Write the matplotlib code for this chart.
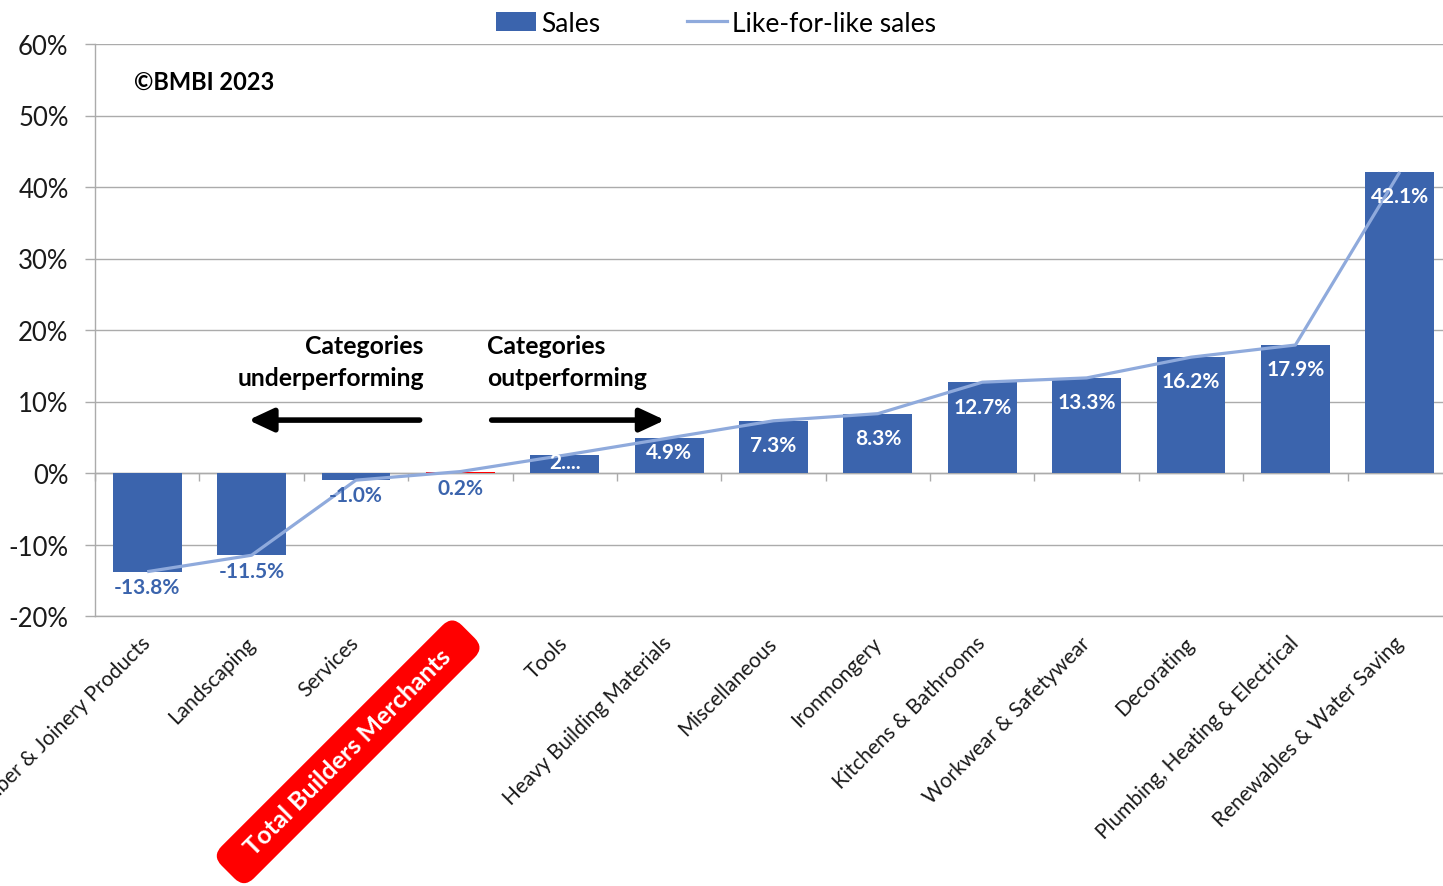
import matplotlib
matplotlib.use("Agg")
import matplotlib.pyplot as plt
import numpy as np
from matplotlib.patches import Patch
from matplotlib.lines import Line2D

# ---------------- data ----------------
categories = ["Timber & Joinery Products", "Landscaping", "Services",
              "Total Builders Merchants", "Tools", "Heavy Building Materials",
              "Miscellaneous", "Ironmongery", "Kitchens & Bathrooms",
              "Workwear & Safetywear", "Decorating",
              "Plumbing, Heating & Electrical", "Renewables & Water Saving"]
sales = [-13.8, -11.5, -1.0, 0.2, 2.5, 4.9, 7.3, 8.3, 12.7, 13.3, 16.2, 17.9, 42.1]
lfl_sales = [-13.8, -11.5, -1.0, 0.2, 2.5, 4.9, 7.3, 8.3, 12.7, 13.3, 16.2, 17.9, 42.1]
sales_labels = ["-13.8%", "-11.5%", "-1.0%", "0.2%", "2....", "4.9%", "7.3%",
                "8.3%", "12.7%", "13.3%", "16.2%", "17.9%", "42.1%"]
y_ticks = [-20, -10, 0, 10, 20, 30, 40, 50, 60]
highlight = "Total Builders Merchants"
series_names = ["Sales", "Like-for-like sales"]

# ---------------- style ----------------
plt.rcParams["font.family"] = ["Lato", "DejaVu Sans"]
bar_color = "#3B64AD"
line_color = "#8FAADC"
hl_color = "#FF0000"
grid_color = "#ABABAB"

W, H = 1443, 887
fig = plt.figure(figsize=(W / 100, H / 100), dpi=100)
ax = fig.add_axes([95 / W, 1 - 617 / H, 1357 / W, (617 - 45) / H])

x = np.arange(len(categories))
colors = [hl_color if c == highlight else bar_color for c in categories]
ax.bar(x, sales, width=0.66, color=colors, zorder=2)
ax.plot(x, lfl_sales, color=line_color, lw=2.3, zorder=3, solid_capstyle="butt")

ax.set_xlim(-0.5, len(categories) - 0.5)
ax.set_ylim(y_ticks[0], y_ticks[-1])
ax.set_yticks(y_ticks)
ax.set_yticklabels([f"{t}%" for t in y_ticks])
ax.yaxis.grid(True, color=grid_color, lw=1.0, zorder=0)
ax.set_axisbelow(True)
for s in ["top", "right", "bottom"]:
    ax.spines[s].set_visible(False)
ax.spines["left"].set_color(grid_color)
ax.spines["left"].set_linewidth(1.0)
ax.tick_params(axis="y", length=7, width=1.0, color=grid_color, labelsize=18.5,
               pad=12, labelcolor="#1A1A1A")

# bottom gridline at -20 (full width)
ax.axhline(y_ticks[0], color=grid_color, lw=1.0, zorder=1, clip_on=False)

# category labels at the bottom
tick_texts = [f"   {c}   " if c == highlight else c for c in categories]
ax.set_xticks(x)
ax.set_xticklabels(tick_texts)
ax.tick_params(axis="x", length=0, pad=17, labelsize=15, labelcolor="#1A1A1A")
for lab, c in zip(ax.get_xticklabels(), categories):
    lab.set_rotation(45)
    lab.set_ha("right")
    lab.set_va("center")
    lab.set_rotation_mode("anchor")
    if c == highlight:
        lab.set_color("white")
        lab.set_fontweight("bold")
        lab.set_fontsize(18)
        lab.set_bbox(dict(boxstyle="round,pad=0.45,rounding_size=0.55",
                          fc=hl_color, ec="none"))

# category axis at zero with ticks between categories
sec = ax.secondary_xaxis(0, transform=ax.transData)
sec.set_xticks(np.arange(len(categories) + 1) - 0.5)
sec.set_xticklabels([])
sec.tick_params(axis="x", length=6, width=1.0, color=grid_color, direction="out")
sec.spines["bottom"].set_color(grid_color)
sec.spines["bottom"].set_linewidth(1.0)

# data labels
for xi, v, txt in zip(x, sales, sales_labels):
    if v >= 1:
        yl = v - 3.4 if v > 6 else v * 0.6
        ax.text(xi, yl, txt, ha="center", va="center", color="white",
                fontsize=15, fontweight="bold", zorder=4)
    else:
        ax.annotate(txt, xy=(xi, min(v, 0)), xytext=(0, -11),
                    textcoords="offset points", ha="center", va="center",
                    color=bar_color, fontsize=15, fontweight="bold", zorder=4)

# annotations
ax.text(0.029, 0.935, "\u00a9BMBI 2023", transform=ax.transAxes, ha="left",
        va="center", fontsize=17, fontweight="bold", color="black")
ax.text(2.65, 15.6, "Categories\nunderperforming", ha="right", va="center",
        fontsize=17.8, fontweight="bold", color="black", linespacing=1.45)
ax.text(3.26, 15.6, "Categories\noutperforming", ha="left", va="center",
        fontsize=17.8, fontweight="bold", color="black", linespacing=1.45)
arrow_kw = dict(arrowstyle="-|>,head_length=0.75,head_width=0.35", lw=4,
                color="black", shrinkA=0, shrinkB=0, mutation_scale=20)
ax.annotate("", xy=(0.97, 7.4), xytext=(2.61, 7.4), arrowprops=arrow_kw)
ax.annotate("", xy=(4.96, 7.4), xytext=(3.30, 7.4), arrowprops=arrow_kw)

# legend
handles = [Patch(facecolor=bar_color, edgecolor="none"),
           Line2D([], [], color=line_color, lw=2.3)]
fig.legend(handles, series_names, loc="center", bbox_to_anchor=(716 / W, 1 - 24 / H),
           ncol=2, frameon=False, fontsize=19, handlelength=1.5,
           handletextpad=0.2, columnspacing=3.3)

fig.savefig("out.png", dpi=100)
